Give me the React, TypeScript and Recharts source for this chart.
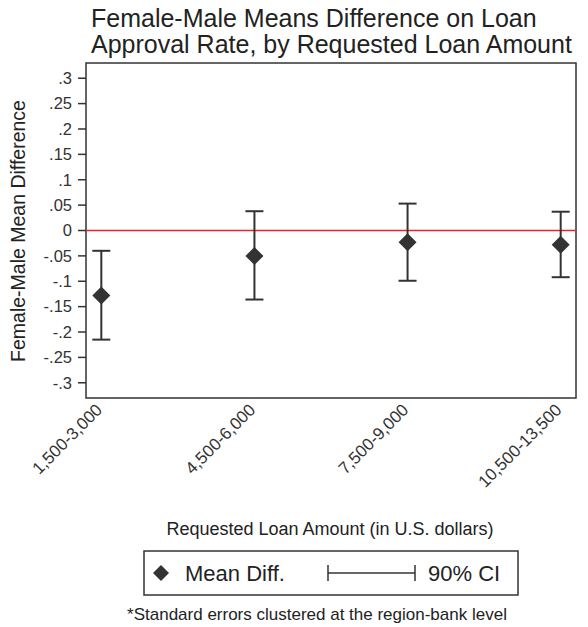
import {
  ScatterChart,
  Scatter,
  XAxis,
  YAxis,
  ErrorBar,
  ReferenceLine,
  ReferenceArea,
} from "recharts";

const loanBins = ["1,500-3,000", "4,500-6,000", "7,500-9,000", "10,500-13,500"];
const meanDiff = [-0.128, -0.05, -0.023, -0.028];
const ciLow = [-0.215, -0.136, -0.099, -0.092];
const ciHigh = [-0.04, 0.038, 0.053, 0.037];
const yTicks = [0.3, 0.25, 0.2, 0.15, 0.1, 0.05, 0, -0.05, -0.1, -0.15, -0.2, -0.25, -0.3];

const FONT = '"Liberation Sans", Arial, Helvetica, sans-serif';
const INK = "#333333";

const points = loanBins.map((bin, i) => ({
  x: i + 1,
  bin,
  mean: meanDiff[i],
  ci: [meanDiff[i] - ciLow[i], ciHigh[i] - meanDiff[i]],
}));

// stata style tick labels: ".25", "-.05", "0"
const fmtY = (v: number) => {
  if (v === 0) return "0";
  const s = Number(Math.abs(v).toFixed(2)).toString().replace(/^0/, "");
  return v < 0 ? "-" + s : s;
};

const Diamond = (props: any) => {
  const { cx, cy } = props;
  const r = 9;
  return (
    <polygon
      points={`${cx},${cy - r} ${cx + r},${cy} ${cx},${cy + r} ${cx - r},${cy}`}
      fill={INK}
    />
  );
};

const BinTick = (props: any) => {
  const { x, y, payload } = props;
  const label = loanBins[Math.round(payload.value) - 1] ?? "";
  const tx = x + 2;
  const ty = y + 13;
  return (
    <text
      x={tx}
      y={ty}
      textAnchor="end"
      fontSize={17}
      fontFamily={FONT}
      fill={INK}
      transform={`rotate(-45, ${tx}, ${ty})`}
    >
      {label}
    </text>
  );
};

export default function App() {
  return (
    <div style={{ position: "absolute", left: 0, top: 0, width: 588, height: 627, background: "#fff" }}>
      <ScatterChart
        width={588}
        height={627}
        margin={{ top: 63, right: 12, bottom: 0, left: 36 }}
      >
        <XAxis
          type="number"
          dataKey="x"
          domain={[0.9, 4.1]}
          ticks={[1, 2, 3, 4]}
          axisLine={false}
          tickLine={false}
          tickSize={0}
          tickMargin={0}
          height={229}
          tick={<BinTick />}
          interval={0}
        />
        <YAxis
          type="number"
          dataKey="mean"
          domain={[-0.33, 0.33]}
          ticks={yTicks}
          interval={0}
          width={50}
          axisLine={false}
          tickSize={8}
          tickMargin={6}
          tickLine={{ stroke: INK, strokeWidth: 1.5 }}
          tickFormatter={fmtY}
          tick={{ fontSize: 16.5, fontFamily: FONT, fill: INK }}
        />
        <ReferenceArea
          x1={0.9}
          x2={4.1}
          y1={-0.33}
          y2={0.33}
          fill="none"
          stroke={INK}
          strokeWidth={1.5}
          fillOpacity={0}
        />
        <ReferenceLine y={0} stroke="#e3262b" strokeWidth={1.6} />
        <Scatter data={points} shape={<Diamond />} isAnimationActive={false}>
          <ErrorBar
            dataKey="ci"
            direction="y"
            width={9}
            stroke={INK}
            strokeWidth={2}
            isAnimationActive={false}
          />
        </Scatter>
      </ScatterChart>
      <svg
        width={588}
        height={627}
        style={{ position: "absolute", left: 0, top: 0, pointerEvents: "none" }}
        fontFamily={FONT}
        fill="#222"
      >
        <text x={91} y={27} fontSize={25}>
          Female-Male Means Difference on Loan
        </text>
        <text x={91} y={53} fontSize={25}>
          Approval Rate, by Requested Loan Amount
        </text>
        <text
          x={25}
          y={231}
          fontSize={19.5}
          textAnchor="middle"
          transform="rotate(-90, 25, 231)"
        >
          Female-Male Mean Difference
        </text>
        <text x={330} y={535} fontSize={18} textAnchor="middle">
          Requested Loan Amount (in U.S. dollars)
        </text>
        <rect x={144} y={551} width={374} height={44} fill="#fff" stroke={INK} strokeWidth={1.5} />
        <polygon points="161,565 169,573 161,581 153,573" fill={INK} />
        <text x={185} y={581} fontSize={22}>
          Mean Diff.
        </text>
        <line x1={328} y1={573} x2={415} y2={573} stroke={INK} strokeWidth={1.5} />
        <line x1={328} y1={565} x2={328} y2={581} stroke={INK} strokeWidth={1.5} />
        <line x1={415} y1={565} x2={415} y2={581} stroke={INK} strokeWidth={1.5} />
        <text x={428} y={581} fontSize={22}>
          90% CI
        </text>
        <text x={317} y={620} fontSize={17} textAnchor="middle">
          *Standard errors clustered at the region-bank level
        </text>
      </svg>
    </div>
  );
}
